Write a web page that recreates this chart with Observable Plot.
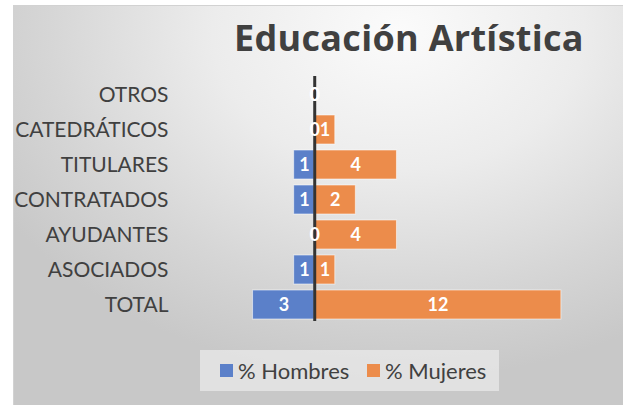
<!DOCTYPE html>
<html>
<head>
<meta charset="utf-8">
<script src="https://cdn.jsdelivr.net/npm/d3@7"></script>
<script src="https://cdn.jsdelivr.net/npm/@observablehq/plot@0.6"></script>
<style>
  html, body { margin: 0; padding: 0; background: #ffffff; }
  #wrap { position: relative; width: 623px; height: 405px; overflow: hidden; font-family: Lato, "Open Sans", sans-serif; }
  #frame { position: absolute; left: 13px; top: 5px; width: 620px; height: 410px;
    border-left: 1px solid #d2d2d2; border-top: 1px solid #d2d2d2;
    background: radial-gradient(ellipse 75% 85% at 62% 6%, #fbfbfb 0%, #ececec 40%, #d6d6d6 75%, #c8c8c8 100%); }
  #title { position: absolute; left: 234px; top: 20px; font-family: "Open Sans", Lato, sans-serif; font-size: 36px; line-height: 36px; font-weight: 700; letter-spacing: 0.3px; color: #404040; white-space: nowrap; }
  #chart { position: absolute; left: 0; top: 0; }
  #legend { position: absolute; left: 200px; top: 350px; width: 299px; height: 41px; background: rgba(245,245,245,0.55); }
  .item { position: absolute; top: 0; height: 41px; display: flex; align-items: center; font-size: 22px; color: #404040; white-space: nowrap; }
  .sw { width: 13px; height: 13px; margin-right: 5px; }
</style>
</head>
<body>
<div id="wrap">
  <div id="frame"></div>
  <div id="chart"></div>
  <div id="title">Educación Artística</div>
  <div id="legend"></div>
</div>
<script>
const categories = ["OTROS", "CATEDRÁTICOS", "TITULARES", "CONTRATADOS", "AYUDANTES", "ASOCIADOS", "TOTAL"];
const hombres = [0, 0, 1, 1, 0, 1, 3];
const mujeres = [0, 1, 4, 2, 4, 1, 12];
const seriesNames = ["% Hombres", "% Mujeres"];
const seriesColors = ["#5b80c9", "#ec8c4b"];

const data = categories.map((c, i) => ({cat: c, h: hombres[i], m: mujeres[i]}));

const chart = Plot.plot({
  width: 623,
  height: 405,
  marginLeft: 232,
  marginRight: 21,
  marginTop: 72,
  marginBottom: 79,
  style: {background: "transparent", fontFamily: "Lato, 'Open Sans', sans-serif", color: "#404040"},
  x: {domain: [-4, 14], axis: null},
  y: {domain: categories, padding: 0.18, axis: null},
  marks: [
    Plot.barX(data, {y: "cat", x1: 0, x2: d => -d.h, fill: seriesColors[0], stroke: "#ffffff", strokeOpacity: 0.55, strokeWidth: 1}),
    Plot.barX(data, {y: "cat", x1: 0, x2: "m", fill: seriesColors[1], stroke: "#ffffff", strokeOpacity: 0.55, strokeWidth: 1}),
    Plot.ruleX([0], {stroke: "#333333", strokeWidth: 3, insetTop: 4, insetBottom: 5}),
    Plot.text(data, {y: "cat", x: d => -d.h / 2, text: d => String(d.h), fill: "#ffffff", fontWeight: "bold", fontSize: 18}),
    Plot.text(data, {y: "cat", x: d => d.m / 2, text: d => String(d.m), fill: "#ffffff", fontWeight: "bold", fontSize: 18}),
    Plot.axisY({tickSize: 0, tickPadding: 64, fontSize: 21, fill: "#404040", label: null})
  ]
});
document.getElementById("chart").appendChild(chart);

const legend = document.getElementById("legend");
const lefts = [20, 167];
seriesNames.forEach((name, i) => {
  const it = document.createElement("div");
  it.className = "item";
  it.style.left = lefts[i] + "px";
  const sw = document.createElement("div");
  sw.className = "sw";
  sw.style.background = seriesColors[i];
  const tx = document.createElement("span");
  tx.textContent = name;
  it.appendChild(sw);
  it.appendChild(tx);
  legend.appendChild(it);
});
</script>
</body>
</html>
